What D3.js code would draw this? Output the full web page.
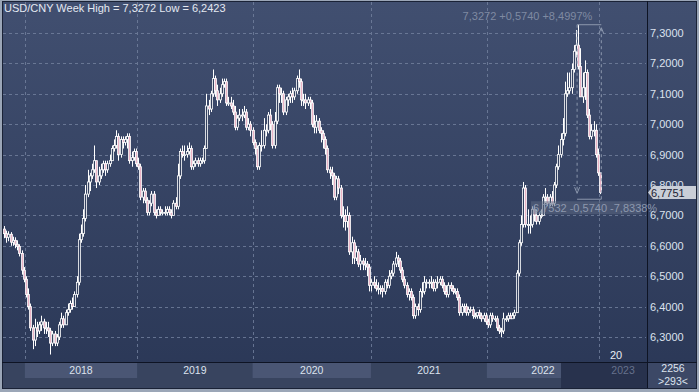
<!DOCTYPE html>
<html>
<head>
<meta charset="utf-8">
<script src="https://d3js.org/d3.v7.min.js"></script>
<style>
  body { margin: 0; background: #9aa5b6; }
  svg { display: block; font-family: "Liberation Sans", Arial, sans-serif; }
</style>
</head>
<body>
<div id="chart"></div>
<script>
// weekly USD/CNY closes, highs and lows (open = previous close)
const close2017 = [6.640, 6.628, 6.638, 6.612, 6.618, 6.605, 6.598, 6.575, 6.520];
const high2017  = [6.665, 6.650, 6.648, 6.645, 6.630, 6.628, 6.618, 6.605, 6.585];
const low2017   = [6.625, 6.610, 6.615, 6.600, 6.600, 6.592, 6.585, 6.565, 6.505];

const close2018 = [6.49, 6.44, 6.40, 6.33, 6.29, 6.33, 6.32, 6.34, 6.35, 6.33, 6.33, 6.32, 6.28, 6.31, 6.28, 6.30, 6.34, 6.36, 6.34, 6.38, 6.39, 6.41, 6.40, 6.44, 6.48, 6.62,
                   6.64, 6.69, 6.77, 6.81, 6.83, 6.85, 6.88, 6.81, 6.83, 6.85, 6.87, 6.85, 6.87, 6.88, 6.92, 6.93, 6.96, 6.90, 6.95, 6.94, 6.95, 6.96, 6.88, 6.89, 6.91, 6.87];
const high2018  = [6.53, 6.50, 6.46, 6.41, 6.34, 6.36, 6.35, 6.35, 6.37, 6.36, 6.35, 6.35, 6.33, 6.32, 6.32, 6.31, 6.35, 6.38, 6.37, 6.39, 6.41, 6.42, 6.43, 6.45, 6.50, 6.64,
                   6.67, 6.72, 6.80, 6.85, 6.84, 6.87, 6.93, 6.88, 6.86, 6.87, 6.88, 6.88, 6.88, 6.90, 6.93, 6.95, 6.98, 6.97, 6.96, 6.96, 6.96, 6.97, 6.97, 6.91, 6.92, 6.92];
const low2018   = [6.48, 6.43, 6.39, 6.32, 6.26, 6.27, 6.30, 6.31, 6.32, 6.31, 6.31, 6.30, 6.2423, 6.27, 6.27, 6.27, 6.29, 6.33, 6.33, 6.34, 6.37, 6.38, 6.39, 6.40, 6.43, 6.47,
                   6.61, 6.63, 6.68, 6.76, 6.78, 6.82, 6.84, 6.79, 6.80, 6.82, 6.84, 6.83, 6.84, 6.86, 6.88, 6.91, 6.92, 6.88, 6.89, 6.92, 6.93, 6.92, 6.87, 6.86, 6.88, 6.86];

const close2019 = [6.86, 6.76, 6.78, 6.75, 6.71, 6.74, 6.77, 6.71, 6.70, 6.72, 6.71, 6.71, 6.71, 6.72, 6.71, 6.70, 6.74, 6.73, 6.83, 6.91, 6.90, 6.90, 6.91, 6.92, 6.86, 6.87,
                   6.88, 6.87, 6.88, 6.88, 6.92, 7.06, 7.05, 7.10, 7.15, 7.11, 7.08, 7.10, 7.13, 7.14, 7.07, 7.07, 7.06, 7.04, 6.99, 7.02, 7.03, 7.03, 7.04, 6.99, 7.00, 6.98];
const high2019  = [6.89, 6.87, 6.79, 6.79, 6.76, 6.75, 6.78, 6.78, 6.72, 6.73, 6.73, 6.72, 6.73, 6.73, 6.73, 6.72, 6.75, 6.76, 6.87, 6.92, 6.93, 6.93, 6.93, 6.94, 6.93, 6.88,
                   6.89, 6.89, 6.89, 6.89, 6.93, 7.10, 7.08, 7.11, 7.18, 7.16, 7.13, 7.12, 7.15, 7.15, 7.15, 7.09, 7.09, 7.08, 7.06, 7.03, 7.05, 7.05, 7.06, 7.05, 7.02, 7.01];
const low2019   = [6.85, 6.75, 6.74, 6.74, 6.70, 6.70, 6.73, 6.70, 6.69, 6.70, 6.70, 6.70, 6.70, 6.70, 6.70, 6.69, 6.70, 6.72, 6.72, 6.82, 6.89, 6.88, 6.89, 6.90, 6.85, 6.85,
                   6.86, 6.86, 6.86, 6.87, 6.87, 6.92, 7.03, 7.04, 7.09, 7.09, 7.06, 7.07, 7.09, 7.12, 7.06, 7.06, 7.05, 7.03, 6.98, 6.98, 7.01, 7.01, 7.02, 6.98, 6.98, 6.96];

const close2020 = [6.94, 6.92, 6.86, 6.93, 6.93, 6.98, 6.98, 7.03, 7.00, 6.93, 7.01, 7.12, 7.10, 7.10, 7.04, 7.08, 7.09, 7.10, 7.09, 7.11, 7.15, 7.14, 7.08, 7.08, 7.07, 7.08,
                   7.07, 7.00, 6.99, 7.01, 6.98, 6.97, 6.95, 6.92, 6.85, 6.84, 6.83, 6.76, 6.82, 6.79, 6.70, 6.70, 6.68, 6.70, 6.58, 6.61, 6.56, 6.58, 6.54, 6.55, 6.54, 6.54, 6.53];
const high2020  = [6.99, 6.95, 6.93, 6.94, 6.98, 7.02, 7.00, 7.04, 7.05, 7.01, 7.04, 7.13, 7.13, 7.12, 7.11, 7.09, 7.10, 7.11, 7.12, 7.12, 7.16, 7.18, 7.15, 7.10, 7.10, 7.09,
                   7.09, 7.08, 7.03, 7.03, 7.02, 6.99, 6.98, 6.96, 6.93, 6.86, 6.86, 6.84, 6.83, 6.83, 6.80, 6.73, 6.72, 6.73, 6.71, 6.63, 6.62, 6.60, 6.59, 6.57, 6.56, 6.56, 6.55];
const low2020   = [6.93, 6.90, 6.85, 6.85, 6.91, 6.92, 6.96, 6.97, 6.98, 6.92, 6.92, 7.00, 7.07, 7.07, 7.03, 7.03, 7.06, 7.07, 7.07, 7.08, 7.10, 7.12, 7.06, 7.06, 7.05, 7.06,
                   7.05, 6.99, 6.97, 6.97, 6.97, 6.94, 6.92, 6.90, 6.84, 6.82, 6.80, 6.75, 6.75, 6.77, 6.69, 6.66, 6.65, 6.66, 6.57, 6.54, 6.54, 6.55, 6.53, 6.52, 6.52, 6.52, 6.50];

const close2021 = [6.47, 6.48, 6.47, 6.46, 6.46, 6.46, 6.45, 6.48, 6.47, 6.50, 6.51, 6.54, 6.56, 6.55, 6.52, 6.49, 6.47, 6.44, 6.45, 6.43, 6.37, 6.40, 6.39, 6.45, 6.45, 6.48,
                   6.48, 6.48, 6.48, 6.46, 6.48, 6.48, 6.49, 6.47, 6.45, 6.44, 6.47, 6.46, 6.45, 6.45, 6.43, 6.38, 6.40, 6.40, 6.38, 6.39, 6.39, 6.37, 6.37, 6.38, 6.37, 6.36];
const high2021  = [6.54, 6.49, 6.50, 6.49, 6.48, 6.47, 6.47, 6.49, 6.49, 6.52, 6.52, 6.55, 6.58, 6.57, 6.56, 6.53, 6.50, 6.48, 6.46, 6.46, 6.44, 6.41, 6.41, 6.46, 6.48, 6.50,
                   6.49, 6.49, 6.50, 6.49, 6.49, 6.50, 6.50, 6.50, 6.48, 6.47, 6.48, 6.48, 6.47, 6.46, 6.46, 6.44, 6.41, 6.41, 6.41, 6.40, 6.40, 6.40, 6.38, 6.38, 6.39, 6.38];
const low2021   = [6.45, 6.45, 6.46, 6.45, 6.44, 6.44, 6.43, 6.44, 6.46, 6.46, 6.49, 6.50, 6.53, 6.53, 6.51, 6.48, 6.46, 6.43, 6.42, 6.42, 6.36, 6.36, 6.37, 6.38, 6.43, 6.44,
                   6.46, 6.46, 6.46, 6.45, 6.45, 6.46, 6.47, 6.46, 6.44, 6.43, 6.43, 6.45, 6.44, 6.44, 6.42, 6.37, 6.37, 6.38, 6.37, 6.37, 6.38, 6.36, 6.36, 6.36, 6.36, 6.35];

const close2022 = [6.37, 6.35, 6.34, 6.37, 6.36, 6.36, 6.33, 6.32, 6.32, 6.36, 6.36, 6.37, 6.36, 6.37, 6.38, 6.51, 6.61, 6.67, 6.79, 6.67, 6.67, 6.67, 6.72, 6.70, 6.68, 6.70,
                   6.70, 6.76, 6.76, 6.74, 6.76, 6.74, 6.80, 6.86, 6.90, 6.95, 6.97, 7.10, 7.11, 7.12, 7.18, 7.24, 7.26, 7.19, 7.09, 7.12, 7.17, 7.03, 6.96, 6.98, 6.98, 6.90];
const high2022  = [6.38, 6.38, 6.36, 6.38, 6.38, 6.37, 6.37, 6.34, 6.33, 6.38, 6.37, 6.38, 6.38, 6.38, 6.39, 6.52, 6.62, 6.70, 6.81, 6.80, 6.72, 6.70, 6.73, 6.73, 6.72, 6.71,
                   6.72, 6.77, 6.79, 6.77, 6.77, 6.78, 6.81, 6.87, 6.93, 6.97, 7.02, 7.14, 7.17, 7.17, 7.20, 7.26, 7.31, 7.3272, 7.25, 7.17, 7.21, 7.18, 7.05, 7.00, 7.01, 7.00];
const low2022   = [6.35, 6.34, 6.33, 6.33, 6.35, 6.35, 6.32, 6.31, 6.30, 6.31, 6.35, 6.35, 6.36, 6.36, 6.36, 6.38, 6.50, 6.60, 6.66, 6.66, 6.64, 6.64, 6.66, 6.68, 6.67, 6.67,
                   6.69, 6.70, 6.74, 6.73, 6.73, 6.73, 6.73, 6.79, 6.85, 6.89, 6.93, 6.96, 7.09, 7.10, 7.10, 7.17, 7.22, 7.18, 7.09, 7.07, 7.08, 7.02, 6.95, 6.95, 6.96, 6.89];

const close2023 = [6.84, 6.7751];
const high2023  = [6.92, 6.84];
const low2023   = [6.83, 6.77];

const firstOpen = 6.655;

// axis labels
const years = ["2018", "2019", "2020", "2021", "2022", "2023"];
const yearBoundary = [9.5, 60.5, 113, 166.8, 219.5, 270.5];   // in bar units
const yTicks = [6.3, 6.4, 6.5, 6.6, 6.7, 6.8, 6.9, 7.0, 7.1, 7.2, 7.3];

const title = "USD/CNY Week High = 7,3272 Low = 6,2423";
const measureHigh = 7.3272, measureLow = 6.7532;
const measureFromBar = 260.5, measureToBar = 271.5;
const lastValue = 6.7751;

// build candles
const closes = [].concat(close2017, close2018, close2019, close2020, close2021, close2022, close2023);
const highs  = [].concat(high2017, high2018, high2019, high2020, high2021, high2022, high2023);
const lows   = [].concat(low2017, low2018, low2019, low2020, low2021, low2022, low2023);
const candles = closes.map((c, i) => ({
    i: i,
    open: i === 0 ? firstOpen : closes[i - 1],
    close: c,
    high: highs[i],
    low: lows[i]
}));

const width = 699, height = 392;
const plotRight = 647, axisTop = 362, axisBottom = 389;

const fmt = v => v.toFixed(4).replace(".", ",");

const x = d3.scaleLinear().domain([0, candles.length - 1]).range([4, 600.2]);
const y = d3.scaleLinear().domain([6.3, 7.3]).range([337, 33]);

const svg = d3.select("#chart").append("svg")
    .attr("width", width)
    .attr("height", height);

const defs = svg.append("defs");
const grad = defs.append("linearGradient")
    .attr("id", "bg")
    .attr("x1", 0).attr("y1", 0).attr("x2", 0).attr("y2", 1);
grad.append("stop").attr("offset", "0%").attr("stop-color", "#414f70");
grad.append("stop").attr("offset", "100%").attr("stop-color", "#2a3756");

//  frame + background
svg.append("rect").attr("width", width).attr("height", height).attr("fill", "#9ba6b7");
svg.append("rect")
    .attr("x", 2).attr("y", 1)
    .attr("width", width - 4).attr("height", axisBottom - 1)
    .attr("fill", "url(#bg)");
svg.append("rect")
    .attr("x", 2.5).attr("y", 1.5)
    .attr("width", width - 5).attr("height", axisBottom - 2)
    .attr("fill", "none").attr("stroke", "#1a2236").attr("stroke-width", 1);

//  bottom axis band
svg.append("rect")
    .attr("x", 3).attr("y", axisTop)
    .attr("width", plotRight - 3).attr("height", axisBottom - axisTop - 1)
    .attr("fill", "#38445f");
svg.append("rect")
    .attr("x", plotRight).attr("y", axisTop)
    .attr("width", width - 3 - plotRight).attr("height", axisBottom - axisTop - 1)
    .attr("fill", "#3c4866");

const bands = years.map((yr, k) => ({
    label: yr,
    x0: x(yearBoundary[k]),
    x1: k < years.length - 1 ? x(yearBoundary[k + 1]) : plotRight,
    k: k
}));

svg.append("g").selectAll("rect")
    .data(bands.filter(b => b.k % 2 === 0 && b.k < 5))
    .join("rect")
        .attr("x", d => d.x0)
        .attr("y", axisTop + 1)
        .attr("width", d => d.k === 4 ? 561 - d.x0 : d.x1 - d.x0)
        .attr("height", 15)
        .attr("fill", "#4a5674");

//  darker scroll region at the right end of the time axis
svg.append("rect")
    .attr("x", 561).attr("y", axisTop + 1)
    .attr("width", plotRight - 561).attr("height", axisBottom - axisTop - 2)
    .attr("fill", "#28324d");

svg.append("g").selectAll("text")
    .data(bands)
    .join("text")
        .attr("x", d => (d.x0 + d.x1) / 2)
        .attr("y", axisTop + 12)
        .attr("text-anchor", "middle")
        .attr("font-size", 10.5)
        .attr("fill", d => d.label === "2023" ? "#66718c" : "#dde3ee")
        .text(d => d.label);

//  grid
const grid = svg.append("g")
    .attr("stroke", "#74829f")
    .attr("stroke-width", 1)
    .attr("stroke-dasharray", "3,3")
    .attr("opacity", 0.8);

grid.selectAll("line.h")
    .data(yTicks)
    .join("line")
        .attr("class", "h")
        .attr("x1", 3).attr("x2", plotRight - 1)
        .attr("y1", d => Math.round(y(d)) + 0.5)
        .attr("y2", d => Math.round(y(d)) + 0.5);

grid.selectAll("line.v")
    .data(yearBoundary)
    .join("line")
        .attr("class", "v")
        .attr("x1", d => Math.round(x(d)) + 0.5)
        .attr("x2", d => Math.round(x(d)) + 0.5)
        .attr("y1", 2).attr("y2", axisTop);

//  axis lines
svg.append("line")
    .attr("x1", 2).attr("x2", width - 2)
    .attr("y1", axisTop + 0.5).attr("y2", axisTop + 0.5)
    .attr("stroke", "#0e1424");
svg.append("line")
    .attr("x1", plotRight + 0.5).attr("x2", plotRight + 0.5)
    .attr("y1", 1).attr("y2", axisBottom - 1)
    .attr("stroke", "#0e1424");

//  right axis labels
svg.append("g").selectAll("text")
    .data(yTicks)
    .join("text")
        .attr("x", plotRight + 3)
        .attr("y", d => y(d) + 4)
        .attr("font-size", 11)
        .attr("fill", "#dce2ee")
        .text(d => fmt(d));

//  candles
const candle = svg.append("g")
    .selectAll("g")
    .data(candles)
    .join("g");

candle.append("line")
    .attr("x1", d => Math.round(x(d.i)) + 0.5)
    .attr("x2", d => Math.round(x(d.i)) + 0.5)
    .attr("y1", d => y(d.high))
    .attr("y2", d => y(d.low))
    .attr("stroke", "#ffffff")
    .attr("stroke-width", 1);

candle.append("rect")
    .attr("x", d => Math.round(x(d.i)) - 0.5)
    .attr("width", 2)
    .attr("y", d => y(Math.max(d.open, d.close)))
    .attr("height", d => Math.max(1, Math.abs(y(d.open) - y(d.close))))
    .attr("fill", d => d.close < d.open ? "#eab3c6" : "#33405e")
    .attr("stroke", "#ffffff")
    .attr("stroke-width", 0.8);

//  title
svg.append("text")
    .attr("x", 4).attr("y", 12)
    .attr("font-size", 11)
    .attr("fill", "#e4e9f2")
    .text(title);

//  measurement tool
const mx0 = x(measureFromBar), mx1 = x(measureToBar);
const myH = y(measureHigh), myL = y(measureLow);
const measure = svg.append("g")
    .attr("stroke", "#8c98ae")
    .attr("fill", "none")
    .attr("stroke-width", 1);

measure.append("line").attr("x1", mx0).attr("x2", mx1).attr("y1", myH).attr("y2", myH);
measure.append("line").attr("x1", mx0).attr("x2", mx1).attr("y1", myL).attr("y2", myL);
measure.append("line")
    .attr("x1", mx0).attr("x2", mx0).attr("y1", myH).attr("y2", myL - 6)
    .attr("stroke-dasharray", "3,3");
measure.append("line")
    .attr("x1", mx1).attr("x2", mx1).attr("y1", myL).attr("y2", myH + 3)
    .attr("stroke-dasharray", "3,3");
measure.append("path")
    .attr("d", `M${mx0 - 2.5},${myL - 12} L${mx0},${myL - 6} L${mx0 + 2.5},${myL - 12}`);
measure.append("path")
    .attr("d", `M${mx1 - 2.5},${myH + 9} L${mx1},${myH + 3} L${mx1 + 2.5},${myH + 9}`);

const diff = measureHigh - measureLow;
svg.append("text")
    .attr("x", mx1 - 9).attr("y", myH - 5)
    .attr("text-anchor", "end")
    .attr("font-size", 11)
    .attr("fill", "#7f8aa2")
    .text(`${fmt(measureHigh)} +${fmt(diff)} +${fmt(diff / measureLow * 100)}%`);

svg.append("rect")
    .attr("x", 531).attr("y", myL + 2)
    .attr("width", 110).attr("height", 13)
    .attr("fill", "#5b6782").attr("opacity", 0.55);
svg.append("text")
    .attr("x", 533).attr("y", myL + 12.5)
    .attr("font-size", 11)
    .attr("fill", "#8d98ae")
    .text(`${fmt(measureLow)} -${fmt(diff)} -${fmt(diff / measureHigh * 100)}%`);

//  last price tag (drawn over the 6,8000 label as in the original)
const ly = y(lastValue);
svg.append("path")
    .attr("d", `M${plotRight + 1},${ly} L${plotRight + 6},${ly - 6.5} L${width - 3},${ly - 6.5} L${width - 3},${ly + 6.5} L${plotRight + 6},${ly + 6.5} Z`)
    .attr("fill", "#c9ced7");
svg.append("text")
    .attr("x", plotRight + 4).attr("y", ly + 4)
    .attr("font-size", 11)
    .attr("fill", "#1b2131")
    .text(fmt(lastValue));

//  corner labels
svg.append("text")
    .attr("x", 610).attr("y", 359)
    .attr("font-size", 11)
    .attr("fill", "#e8ecf3")
    .text("20");

svg.append("text")
    .attr("x", 673).attr("y", axisTop + 10)
    .attr("text-anchor", "middle")
    .attr("font-size", 10.5)
    .attr("fill", "#dde3ee")
    .text("2256");
svg.append("text")
    .attr("x", 673).attr("y", axisTop + 23)
    .attr("text-anchor", "middle")
    .attr("font-size", 10.5)
    .attr("fill", "#dde3ee")
    .text(">293<");
</script>
</body>
</html>
